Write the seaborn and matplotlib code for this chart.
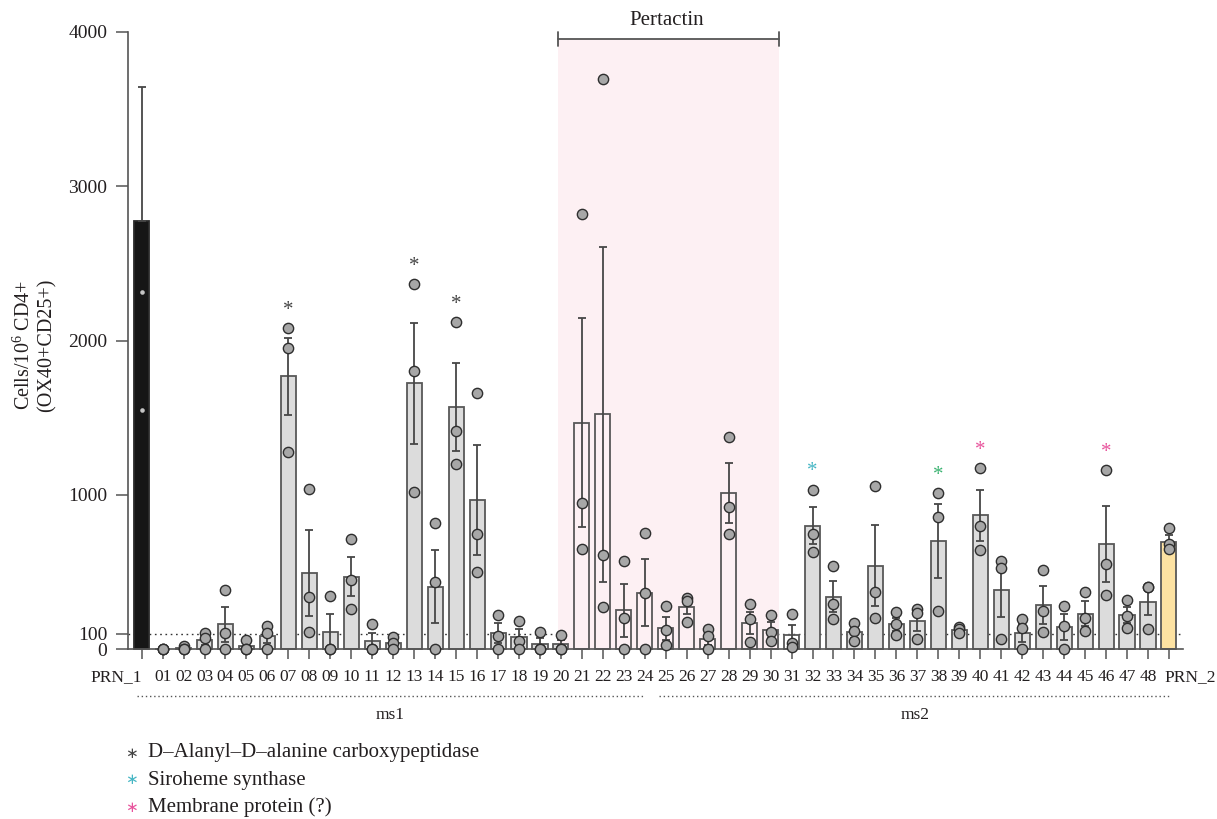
import numpy as np
import pandas as pd
import matplotlib
matplotlib.use("Agg")
import matplotlib.pyplot as plt
import matplotlib.transforms as mtransforms
import seaborn as sns
from matplotlib.patches import Rectangle

# ---------------- data ----------------
categories = ["PRN_1", "01", "02", "03", "04", "05", "06", "07", "08", "09", "10",
              "11", "12", "13", "14", "15", "16", "17", "18", "19", "20",
              "21", "22", "23", "24", "25", "26", "27", "28", "29", "30",
              "31", "32", "33", "34", "35", "36", "37", "38", "39", "40",
              "41", "42", "43", "44", "45", "46", "47", "48", "PRN_2"]

means = [2774, 0, 7, 58, 160, 19, 84, 1767, 492, 113, 470,
         52, 38, 1722, 404, 1572, 965, 102, 78, 35, 30,
         1467, 1521, 252, 366, 135, 272, 67, 1010, 170, 123,
         88, 800, 340, 108, 540, 162, 181, 700, 124, 866,
         380, 104, 287, 142, 230, 680, 221, 307, 695]

sem = [868, 0, 7, 30, 115, 19, 45, 252, 280, 115, 128,
       52, 23, 393, 235, 285, 355, 64, 54, 36, 30,
       678, 1085, 172, 219, 74, 47, 38, 193, 72, 50,
       69, 120, 103, 35, 262, 42, 63, 242, 11, 164,
       172, 57, 122, 84, 80, 248, 53, 88, 42]

rep1 = [4460, 0, 20, 104, 382, 58, 149, 2078, 1035, 345, 711,
        162, 80, 2364, 815, 2117, 1661, 220, 183, 108, 91,
        2820, 3694, 572, 752, 277, 333, 128, 1374, 292, 220,
        229, 1033, 538, 170, 1058, 238, 261, 1009, 145, 1175,
        570, 194, 514, 281, 371, 1158, 320, 400, 784]
rep2 = [2314, 0, 0, 69, 104, 0, 104, 1953, 335, 0, 445,
        0, 37, 1800, 432, 1413, 743, 84, 54, 0, 0,
        946, 611, 201, 365, 121, 313, 84, 920, 192, 108,
        37, 747, 292, 119, 367, 164, 231, 857, 128, 797,
        527, 134, 244, 151, 203, 551, 212, 400, 682]
rep3 = [1549, 0, 0, 0, 0, 0, 0, 1275, 110, 0, 261,
        0, 0, 1015, 0, 1201, 497, 0, 0, 0, 0,
        648, 274, 0, 0, 26, 175, 0, 743, 43, 52,
        15, 627, 196, 52, 201, 93, 63, 248, 106, 644,
        63, 0, 110, 0, 119, 352, 138, 132, 648]

marked_categories = ["07", "13", "15", "32", "38", "40", "46"]
marked_kind = ["dd", "dd", "dd", "siro", "green", "mem", "mem"]

legend_labels = ["D\u2013Alanyl\u2013D\u2013alanine carboxypeptidase",
                 "Siroheme synthase",
                 "Membrane protein (?)"]
legend_kind = ["dd", "siro", "mem"]

# ---------------- styles ----------------
star_colors = {"dd": "#444444", "siro": "#46b6c4", "green": "#3cb372", "mem": "#e8539c"}
bar_fill = "#dcdcdc"
bar_edge = "#585858"
text_color = "#231f20"
unfilled = set(categories[categories.index("21"):categories.index("31") + 1])
special_fill = {"PRN_1": "#161616", "PRN_2": "#fde2a2"}

sns.set_style("ticks")
plt.rcParams["font.family"] = ["Liberation Serif", "DejaVu Sans"]
plt.rcParams["mathtext.fontset"] = "custom"
plt.rcParams["mathtext.rm"] = "Liberation Serif"
plt.rcParams["mathtext.it"] = "Liberation Serif:italic"

fig = plt.figure(figsize=(12.17, 8.19), dpi=100)
ax = fig.add_axes([0.10518, 0.19621, 0.86688, 0.76472])

df_bars = pd.DataFrame({"cat": categories, "mean": means})
sns.barplot(data=df_bars, x="cat", y="mean", order=categories, width=0.72,
            color=bar_fill, edgecolor=bar_edge, linewidth=1.3, errorbar=None,
            ax=ax, zorder=2)
for cat, patch in zip(categories, ax.containers[0]):
    if cat in special_fill:
        patch.set_facecolor(special_fill[cat])
        if cat == "PRN_1":
            patch.set_edgecolor("#2a2a2a")
    elif cat in unfilled:
        patch.set_facecolor("none")

# error bars (SEM)
m = np.array(means, dtype=float)
s = np.array(sem, dtype=float)
lower = np.minimum(s, m)
lower[categories.index("PRN_1")] = 0
xpos = np.arange(len(categories))
ax.errorbar(xpos, m, yerr=[lower, s], fmt="none", ecolor="#474747",
            elinewidth=1.3, capsize=3.2, capthick=1.3, zorder=3)

# individual points
df_pts = pd.DataFrame({"cat": categories * 3, "val": rep1 + rep2 + rep3})
sns.stripplot(data=df_pts[df_pts["cat"] != "PRN_1"], x="cat", y="val",
              order=categories, jitter=False, size=7.4, color="#a7a7a7",
              edgecolor="#2e2e2e", linewidth=1.0, ax=ax, zorder=4)
sns.stripplot(data=df_pts[df_pts["cat"] == "PRN_1"], x="cat", y="val",
              order=categories, jitter=False, size=3.3, color="#c4c4c4",
              linewidth=0, ax=ax, zorder=4)

# reference dotted line at 100
ax.axhline(100, color="#333333", lw=1.0, ls=(0, (1.2, 2.6)), zorder=1)

# Pertactin shading & bracket
x0, x1, ytop = 19.85, 30.39, 3955
ax.add_patch(Rectangle((x0, 0), x1 - x0, ytop, facecolor="#fdf0f3",
                       edgecolor="none", zorder=1.5))
ax.plot([x0, x1], [ytop, ytop], color="#555555", lw=1.3, clip_on=False, zorder=3)
for xx in (x0, x1):
    ax.plot([xx, xx], [ytop - 45, ytop + 45], color="#555555", lw=1.3,
            clip_on=False, zorder=3)
ax.text((x0 + x1) / 2 - 0.1, 4075, "Pertactin", ha="center", va="center",
        fontsize=15, color=text_color)

# significance stars
pts_max = df_pts.groupby("cat")["val"].max()
for cat, kind in zip(marked_categories, marked_kind):
    i = categories.index(cat)
    ax.text(i, pts_max[cat] + 115, "*", ha="center", va="center",
            fontsize=15, color=star_colors[kind], zorder=5)

# axes styling
ax.set_xlim(-0.65, 49.67)
ax.set_ylim(-60, 4000)
ax.spines["top"].set_visible(False)
ax.spines["right"].set_visible(False)
ax.spines["bottom"].set_position(("data", 0))
ax.spines["left"].set_bounds(0, 4000)
for sp in ("left", "bottom"):
    ax.spines[sp].set_color("#555555")
    ax.spines[sp].set_linewidth(1.2)
ax.set_yticks([0, 100, 1000, 2000, 3000, 4000])
ax.set_yticklabels(["0", "100", "1000", "2000", "3000", "4000"])
ax.tick_params(axis="y", direction="out", length=8.5, width=1.1, color="#555555",
               labelsize=14, pad=6.5, labelcolor=text_color)
ax.tick_params(axis="x", direction="out", length=7.2, width=1.1, color="#555555",
               labelsize=12.5, pad=7, labelcolor=text_color)
ax.set_xlabel("")
ax.set_ylabel("Cells/10$^{6}$ CD4+\n(OX40+CD25+)", fontsize=14.5, color=text_color,
              linespacing=1.15)
ax.yaxis.set_label_coords(-0.068, 0.5)
xt = ax.get_xticklabels()
xt[0].set_horizontalalignment("right")
xt[-1].set_horizontalalignment("left")
xt[-1].set_transform(xt[-1].get_transform() +
                     mtransforms.ScaledTranslation(-3 / 72, 0, fig.dpi_scale_trans))

# group annotations under x labels
trans = ax.get_xaxis_transform()
for (gx0, gx1, gname, gcx) in [(-0.22, 24.0, "ms1", 11.87), (24.7, 49.06, "ms2", 36.88)]:
    ax.plot([gx0, gx1], [-0.0602, -0.0602], transform=trans, color="#555555",
            lw=1.0, ls=(0, (1, 2)), clip_on=False)
    ax.text(gcx, -0.0905, gname, transform=trans, ha="center", va="center",
            fontsize=12.5, color=text_color)

# legend of stars
for k, (lab, kind) in enumerate(zip(legend_labels, legend_kind)):
    yy = 1 - (753 + 27 * k) / 819
    fig.text(0.1082, yy, "\u2217", ha="center", va="center", fontsize=11,
             color=star_colors[kind], family=["DejaVu Sans"])
    fig.text(0.1219, yy, lab, ha="left", va="center", fontsize=15, color=text_color)

fig.savefig("out.png", dpi=100)
